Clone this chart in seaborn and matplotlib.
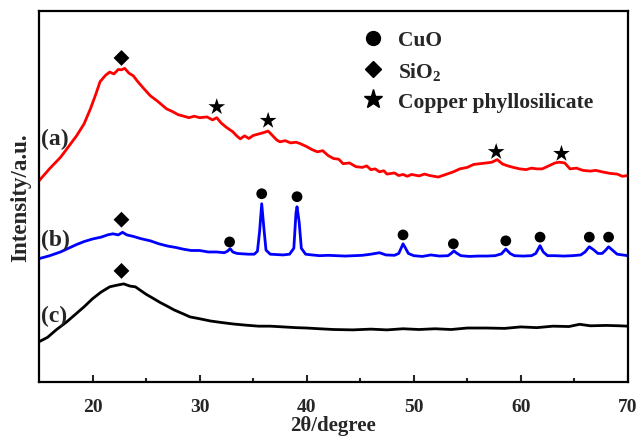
import matplotlib
matplotlib.use('Agg')
import matplotlib.pyplot as plt
import seaborn as sns
from matplotlib.lines import Line2D

# pattern (a) - red
a_x = [15, 16, 17, 17.6, 18.5, 19.2, 19.8, 20.3, 20.7, 21.2, 21.6, 22.0, 22.4, 22.7, 23.0, 23.4,
       23.8, 24.2, 24.8, 25.4, 26.0, 26.5, 26.9, 27.5, 28.0, 28.4, 29.0, 29.5, 30.0, 30.7, 31.2,
       31.6, 32.0, 32.5, 33.1, 33.5, 33.8, 34.2, 34.6, 35.0, 35.5, 36.0, 36.4, 36.8, 37.2, 37.5,
       38.0, 38.5, 39.0, 39.4, 40.0, 40.5, 41.0, 41.5, 42.0, 42.5, 43.0, 43.4, 44.0, 44.6, 45.2,
       45.6, 46.0, 46.4, 46.8, 47.2, 47.5, 48.2, 48.6, 49.0, 49.4, 49.8, 50.5, 51.0, 51.5, 52.3,
       53.0, 53.7, 54.3, 55.0, 55.6, 56.2, 56.8, 57.3, 57.8, 58.3, 58.8, 59.3, 59.9, 60.5, 61.0,
       61.5, 62.0, 62.6, 63.2, 63.6, 64.1, 64.6, 65.2, 65.8, 66.5, 67.0, 67.6, 68.3, 69.0, 69.5, 70.0]
a_y = [54.2, 57.5, 60.5, 62.8, 66.3, 69.5, 73.6, 77.5, 80.9, 82.6, 83.5, 83.0, 84.2, 84.1, 84.5, 83.2,
       82.5, 81.0, 79.0, 77.1, 75.8, 74.6, 73.6, 72.8, 72.0, 71.7, 71.2, 71.6, 71.2, 71.4, 70.6,
       71.2, 69.8, 68.6, 67.4, 66.2, 65.5, 66.3, 65.6, 66.4, 66.8, 67.2, 67.6, 66.4, 65.2, 64.7,
       65.0, 64.4, 64.6, 64.2, 63.4, 62.6, 62.0, 62.3, 61.0, 60.2, 60.0, 58.8, 59.0, 58.0, 57.8,
       58.2, 57.2, 57.4, 56.6, 56.9, 56.0, 56.3, 55.6, 55.9, 55.4, 55.9, 55.5, 56.0, 55.6, 55.2,
       55.9, 56.6, 57.4, 57.8, 58.6, 58.8, 59.0, 59.2, 59.9, 58.7, 58.2, 57.8, 57.4, 57.2, 57.6,
       57.4, 57.4, 58.2, 59.0, 59.2, 59.0, 57.4, 57.6, 57.0, 56.8, 57.0, 56.6, 56.2, 56.0, 55.4, 55.6]

# pattern (b) - blue
b_x = [15, 16, 17, 17.6, 18.5, 19.2, 20.0, 20.8, 21.4, 21.9, 22.4, 22.8, 23.2, 23.8, 24.5, 25.4,
       26.2, 27.0, 27.8, 28.4, 29.2, 30.0, 30.8, 31.6, 32.3, 32.6, 32.85, 33.1, 33.5, 34.0, 34.6,
       35.1, 35.4, 35.6, 35.8, 36.0, 36.2, 36.6, 37.2, 37.8, 38.4, 38.8, 39.0, 39.1, 39.3, 39.5,
       39.9, 40.5, 41.2, 42.0, 42.8, 43.6, 44.4, 45.2, 46.0, 46.8, 47.4, 48.2, 48.6, 48.85, 49.0,
       49.2, 49.5, 50.0, 50.8, 51.6, 52.4, 53.2, 53.5, 53.75, 54.0, 54.4, 55.2, 56.0, 56.8, 57.6,
       58.2, 58.6, 59.0, 59.4, 60.2, 61.0, 61.4, 61.8, 62.1, 62.5, 63.2, 64.0, 64.8, 65.6, 66.0,
       66.4, 66.8, 67.2, 67.6, 67.9, 68.2, 68.6, 69.0, 69.5, 70.0]
b_y = [33.2, 34.0, 35.0, 35.8, 37.0, 37.8, 38.5, 39.0, 39.6, 39.9, 39.6, 40.3, 39.6, 39.2, 38.6, 38.0,
       37.2, 36.6, 36.2, 35.8, 35.4, 35.4, 35.0, 35.0, 34.8, 35.2, 35.9, 35.0, 34.6, 34.5, 34.4,
       34.4, 35.2, 40.5, 48.0, 41.5, 35.5, 34.4, 34.3, 34.2, 34.4, 36.0, 45.5, 47.2, 43.0, 36.0,
       34.4, 34.2, 34.0, 34.1, 34.0, 33.9, 34.0, 34.1, 34.4, 34.8, 34.2, 34.1, 34.6, 36.2, 37.2,
       36.2, 34.6, 34.0, 33.8, 34.2, 33.9, 34.0, 34.6, 35.3, 34.7, 34.0, 33.8, 33.9, 33.9, 34.0,
       34.5, 35.8, 34.6, 34.0, 33.9, 34.0, 34.6, 36.7, 35.0, 34.0, 34.0, 33.9, 34.0, 34.2, 35.0,
       36.4, 35.6, 34.6, 34.6, 35.4, 36.4, 35.4, 34.4, 34.2, 34.0]

# pattern (c) - black
c_x = [15, 15.8, 16.6, 17.6, 18.4, 19.2, 20.0, 20.8, 21.6, 22.2, 22.9, 23.5, 24.0, 24.4, 25.0, 25.6,
       26.3, 26.9, 27.6, 28.4, 29.1, 30.0, 31.0, 32.0, 33.1, 34.2, 35.5, 36.6, 37.8, 39.0, 40.0,
       41.2, 42.5, 44.3, 46.0, 47.5, 49.0, 50.5, 52.0, 53.5, 55.0, 56.8, 58.5, 60.0, 61.5, 63.0,
       64.5, 65.5, 66.5, 68.0, 69.2, 70.0]
c_y = [10.8, 12.0, 14.0, 16.2, 18.2, 20.2, 22.4, 24.2, 25.6, 26.0, 26.4, 25.8, 25.6, 24.8, 23.6, 22.6,
       21.4, 20.5, 19.4, 18.4, 17.5, 17.0, 16.4, 16.0, 15.6, 15.3, 15.0, 15.0, 14.8, 14.6, 14.5,
       14.3, 14.1, 14.0, 14.2, 14.0, 14.3, 14.1, 14.3, 14.1, 14.5, 14.5, 14.4, 14.8, 14.6, 15.0,
       14.9, 15.5, 15.1, 15.2, 15.1, 15.0]

# peak markers
sio2_x = [22.7, 22.7, 22.7]
sio2_y = [87.3, 43.7, 29.9]
phyl_x = [31.6, 36.4, 57.7, 63.8]
phyl_y = [74.1, 70.4, 62.0, 61.5]
cuo_x = [32.8, 35.8, 39.1, 49.0, 53.7, 58.6, 61.8, 66.4, 68.2]
cuo_y = [37.7, 50.7, 49.9, 39.6, 37.2, 38.0, 39.0, 39.0, 39.0]

curve_labels = ['(a)', '(b)', '(c)']
curve_label_y = [65.5, 38.5, 17.8]

sns.set_style('ticks')
plt.rcParams['font.family'] = ['Liberation Serif', 'DejaVu Serif']
plt.rcParams['font.weight'] = 'bold'
plt.rcParams['mathtext.fontset'] = 'custom'
plt.rcParams['mathtext.bf'] = 'Liberation Serif:bold'
plt.rcParams['mathtext.rm'] = 'Liberation Serif:bold'
plt.rcParams['mathtext.default'] = 'bf'

fig, ax = plt.subplots(figsize=(6.4, 4.39), dpi=100)
fig.subplots_adjust(left=0.061, right=0.981, top=0.973, bottom=0.128)

sns.lineplot(x=a_x, y=a_y, color='#ff0000', lw=2, ax=ax, sort=False)
sns.lineplot(x=b_x, y=b_y, color='#0000ff', lw=2, ax=ax, sort=False)
sns.lineplot(x=c_x, y=c_y, color='black', lw=2, ax=ax, sort=False)

sns.scatterplot(x=sio2_x, y=sio2_y, marker='D', s=65, color='black', edgecolor='none', ax=ax)
sns.scatterplot(x=phyl_x, y=phyl_y, marker='*', s=160, color='black', edgecolor='none', ax=ax)
sns.scatterplot(x=cuo_x, y=cuo_y, marker='o', s=60, color='black', edgecolor='none', ax=ax)

for lab, yy in zip(curve_labels, curve_label_y):
    ax.text(15.2, yy, lab, fontsize=17, fontweight='bold', va='center', ha='left')

ax.set_xlim(15, 70)
ax.set_ylim(0, 100)
ax.set_xticks([20, 30, 40, 50, 60, 70])
ax.set_xticks([25, 35, 45, 55, 65], minor=True)
ax.set_yticks([])
ax.tick_params(axis='x', direction='in', length=5, width=1.5, labelsize=14, pad=12)
ax.tick_params(axis='x', which='minor', direction='in', length=3, width=1.5)
for lbl in ax.get_xticklabels():
    lbl.set_fontweight('bold')
for sp in ax.spines.values():
    sp.set_linewidth(1.6)
    sp.set_color('black')

ax.set_xlabel('2θ/degree', fontsize=15, fontweight='bold', labelpad=0)
ax.set_ylabel('Intensity/a.u.', fontsize=16.5, fontweight='bold', labelpad=6)

handles = [
    Line2D([], [], marker='o', color='black', ls='none', markersize=10),
    Line2D([], [], marker='D', color='black', ls='none', markersize=8),
    Line2D([], [], marker='*', color='black', ls='none', markersize=14),
]
ax.legend(handles, ['CuO', 'SiO$_2$', 'Copper phyllosilicate'], loc='upper left',
          bbox_to_anchor=(0.512, 1.0), frameon=False, handletextpad=0.55,
          labelspacing=0.45, handlelength=1.2, prop={'weight': 'bold', 'size': 15.5})

fig.savefig('out.png', dpi=100)
